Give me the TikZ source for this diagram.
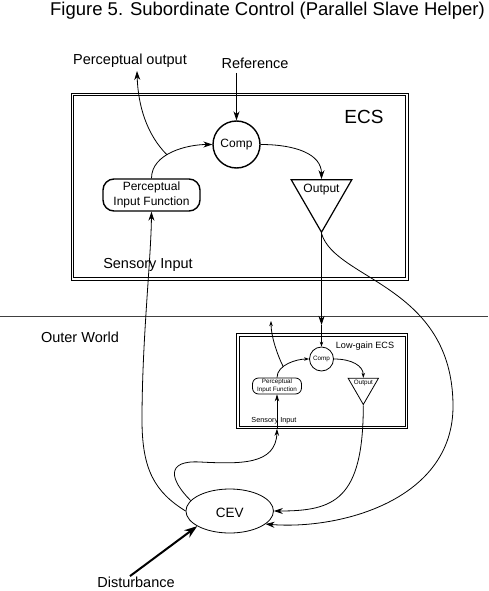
\documentclass[tikz,border=0pt]{standalone}
\usepackage{fontspec}
\setmainfont{Liberation Sans}
\usetikzlibrary{arrows.meta,positioning,shapes.geometric}

\begin{document}
\begin{tikzpicture}[x=1pt,y=-1pt,line width=0.8pt,on grid,
    >={Stealth[length=9pt,width=6pt]},
    sarr/.style={-{Stealth[length=5pt,width=3.5pt]}},
    marr/.style={-{Stealth[length=7pt,width=4.5pt]}},
    lbl/.style={font=\fontsize{14.5}{17}\selectfont,inner sep=0pt,anchor=base},
    txt/.style={font=\fontsize{12}{15}\selectfont,inner sep=0pt},
    cmp/.style={circle,draw,line width=1.4pt,minimum size=47pt,inner sep=0pt,txt},
    pif/.style={draw,rounded corners=11pt,line width=1.4pt,minimum width=97pt,minimum height=32pt,inner sep=0pt,align=center,txt},
    amp/.style={regular polygon,regular polygon sides=3,shape border rotate=180,draw,line width=1.2pt,minimum size=70pt,inner sep=0pt},
    frame/.style={draw,line width=0.8pt,inner sep=0pt},
    % low-gain copy
    tinytxt/.style={font=\fontsize{6.3}{8.3}\selectfont,inner sep=0pt},
    cmpsm/.style={circle,draw,line width=0.8pt,minimum size=24pt,inner sep=0pt,tinytxt},
    pifsm/.style={draw,rounded corners=6pt,line width=0.8pt,minimum width=49pt,minimum height=16pt,inner sep=0pt,align=center,tinytxt},
    ampsm/.style={regular polygon,regular polygon sides=3,shape border rotate=180,draw,line width=0.8pt,minimum size=35pt,inner sep=0pt},
    framesm/.style={draw,line width=0.6pt,inner sep=0pt}]

  \useasboundingbox (0,0) rectangle (488,591);

  \node[lbl,font=\fontsize{18.5}{22}\selectfont] (title) at (267.5,15.5) {Figure 5. Subordinate Control (Parallel Slave Helper)};

  % higher-level ECS
  \node[frame,minimum width=337pt,minimum height=187pt] (ecs) at (239.5,186.5) {};
  \draw[line width=0.8pt] ([shift={(3pt,3pt)}]ecs.south west) rectangle ([shift={(-3pt,-3pt)}]ecs.north east);
  \node[lbl,font=\fontsize{19}{22}\selectfont] (ecslbl) at (364,124) {ECS};
  \node[cmp] (comp) at (236.5,144.5) {Comp};
  \node[pif] (pif) [below left=50.5pt and 85pt of comp] {Perceptual\\Input Function};
  \node[amp] (out) [below right=52.7pt and 85pt of comp] {};
  \node[txt,anchor=base] (outlbl) at ([yshift=-13.7pt]out.north) {Output};
  \node[lbl] (sens) at (148,268) {Sensory Input};
  \node[lbl] (ref) at (255,69) {Reference};
  \node[lbl] (pout) at (130,65) {Perceptual output};
  \coordinate (reftail) at (236.5,73);
  \coordinate (potip) at (137,71);

  \draw[->] (reftail) -- (comp.north);
  \draw[->] (pif.north) .. controls +(0,-25) and +(-25,0) .. (comp.west) coordinate[pos=0.42] (br1);
  \draw[->] (br1) .. controls +(-20,-20) and +(1,35) .. (potip);
  \draw[->] (comp.east) .. controls +(35,0) and +(0,-25) .. (out.north);

  % boundary
  \draw[black!75,line width=1pt] (0,316) -- (488,316);
  \node[lbl] (world) at (80,342) {Outer World};

  % low-gain ECS
  \node[framesm,minimum width=171pt,minimum height=95pt] (lg) at (322,381) {};
  \draw[line width=0.6pt] ([shift={(3pt,3pt)}]lg.south west) rectangle ([shift={(-3pt,-3pt)}]lg.north east);
  \node[lbl,font=\fontsize{9.1}{11}\selectfont] (lglbl) at (365,348.5) {Low-gain ECS};
  \node[cmpsm] (comp2) at (321.5,359) {Comp};
  \node[pifsm] (pif2) [below left=27pt and 44.5pt of comp2] {Perceptual\\Input Function};
  \node[ampsm] (out2) [below right=28pt and 41.8pt of comp2] {};
  \node[tinytxt,anchor=base] (outlbl2) at ([yshift=-6.2pt]out2.north) {Output};
  \node[lbl,font=\fontsize{7.3}{9}\selectfont] (sens2) at (274,422) {Sensory Input};
  \coordinate (sref) at (321.5,325);
  \coordinate (pout2) at (271,321);
  \coordinate (sin2) at (pif2.south |- lg.south);

  \draw[->] (out.south) -- (sref);
  \draw[sarr] (sref) -- (comp2.north);
  \draw[sarr] (pif2.north) .. controls +(0,-13) and +(-12,0) .. (comp2.west) coordinate[pos=0.35] (br2);
  \draw[sarr] (br2) .. controls +(-6,-12) and +(0,15) .. (pout2);
  \draw[sarr] (comp2.east) .. controls +(18,0) and +(0,-12) .. (out2.north);
  \draw[marr] (sin2) -- (pif2.south);

  % environment
  \node[ellipse,draw,minimum width=87.5pt,minimum height=44pt,inner sep=0pt] (cev) at (229.7,511) {};
  \node[lbl,font=\fontsize{13.5}{16}\selectfont] (cevlbl) at (229.7,517) {CEV};
  \node[lbl] (dist) at (136,587) {Disturbance};

  \draw[->] (cev.west) .. controls (155,492) and (142,470) .. (142,420)
                       .. controls (142,340) and (151,260) .. (pif.south);
  \draw[marr] (cev.165) .. controls (170,480) and (165,460) .. (200,462)
                        .. controls (240,464) and (276,465) .. (sin2);
  \draw[->] (out.south) .. controls (335,280) and (452,285) .. (453,405)
                        .. controls (454,500) and (340,530) .. (cev.-20);
  \draw[->] (out2.south) .. controls +(0,95) and +(60,0) .. (cev.east);
  \draw[-{Stealth[length=13pt,width=9pt]},line width=2pt] ([xshift=-6pt]dist.north) -- (cev.205);
\end{tikzpicture}
\end{document}
